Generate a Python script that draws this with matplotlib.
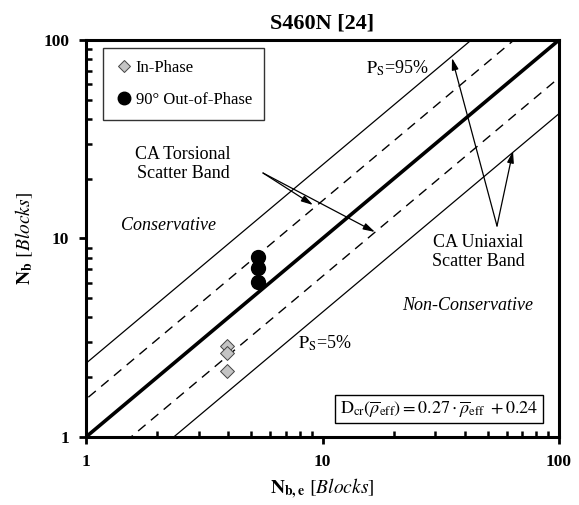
import matplotlib
matplotlib.use("Agg")
import matplotlib.pyplot as plt
import numpy as np
from matplotlib.lines import Line2D

plt.rcParams['font.family'] = ['Liberation Serif', 'DejaVu Serif']
plt.rcParams['mathtext.fontset'] = 'stix'

# Experimental results (Nb,e predicted vs Nb observed)
in_phase_x = [3.95, 3.95, 3.95]
in_phase_y = [2.87, 2.65, 2.15]
out_phase_x = [5.34, 5.34, 5.34]
out_phase_y = [8.07, 7.10, 6.04]

# Scatter band factors
uniaxial_factor = 2.35
torsional_factor = 1.55

fig = plt.figure(figsize=(5.79, 5.05), dpi=100)
ax = fig.add_axes([0.1485, 0.1347, 0.8170, 0.7861])
ax.set_xscale('log')
ax.set_yscale('log')
ax.set_xlim(1, 100)
ax.set_ylim(1, 100)

xx = np.array([0.1, 1000.0])
ax.plot(xx, xx, color='black', lw=2.6, zorder=2)
ax.plot(xx, xx * uniaxial_factor, color='black', lw=0.9, zorder=2)
ax.plot(xx, xx / uniaxial_factor, color='black', lw=0.9, zorder=2)
ax.plot(xx, xx * torsional_factor, color='black', lw=1.0, ls=(0, (7, 5)), zorder=2)
ax.plot(xx, xx / torsional_factor, color='black', lw=1.0, ls=(0, (7, 5)), zorder=2)

ax.scatter(in_phase_x, in_phase_y, marker='D', s=50, facecolor='#c4c4c4',
           edgecolor='#444444', linewidth=0.7, zorder=4)
ax.scatter(out_phase_x, out_phase_y, marker='o', s=100, facecolor='black',
           edgecolor='black', zorder=4)

# Spines and ticks
for s in ax.spines.values():
    s.set_linewidth(2.2)
ax.tick_params(which='major', direction='out', length=5, width=2.0, pad=7,
               labelsize=12.5)
ax.tick_params(which='minor', direction='in', length=4, width=1.8)
ax.set_xticks([1, 10, 100])
ax.set_yticks([1, 10, 100])
ax.set_xticklabels(['1', '10', '100'], fontweight='bold')
ax.set_yticklabels(['1', '10', '100'], fontweight='bold')

ax.set_title('S460N [24]', fontsize=16, fontweight='bold', pad=8)
ax.set_xlabel(r'$\mathbf{N_{b,e}}$ $\mathit{[Blocks]}$', fontsize=14, labelpad=5)
ax.set_ylabel(r'$\mathbf{N_{b}}$ $\mathit{[Blocks]}$', fontsize=14, labelpad=6)

# Legend
handles = [
    Line2D([], [], marker='D', ls='none', markersize=6, markerfacecolor='#c4c4c4',
           markeredgecolor='#444444', markeredgewidth=0.7),
    Line2D([], [], marker='o', ls='none', markersize=9, markerfacecolor='black',
           markeredgecolor='black'),
]
leg = ax.legend(handles, ['In-Phase', '90° Out-of-Phase'], loc='upper left',
                bbox_to_anchor=(0.035, 0.98), fontsize=12, frameon=True,
                fancybox=False, edgecolor='black', handletextpad=0.1,
                handlelength=1.2, labelspacing=1.0, borderpad=0.7,
                borderaxespad=0)
leg.get_frame().set_linewidth(1.0)

# Annotations
tkw = dict(transform=fig.transFigure)
def fx(px):
    return px / 579.0
def fy(py):
    return 1 - py / 505.0

ax.text(fx(397), fy(68), r'$\mathrm{P_S}$=95%', fontsize=13, ha='center',
        va='center', **tkw)
ax.text(fx(325), fy(343), r'$\mathrm{P_S}$=5%', fontsize=13, ha='center',
        va='center', **tkw)
ax.text(fx(168), fy(226), 'Conservative', fontsize=13, style='italic',
        ha='center', va='center', **tkw)
ax.text(fx(468), fy(305), 'Non-Conservative', fontsize=13, style='italic',
        ha='center', va='center', **tkw)
ax.text(fx(183), fy(164), 'CA Torsional\nScatter Band', fontsize=13,
        ha='center', va='center', linespacing=1.1, **tkw)
ax.text(fx(478), fy(252), 'CA Uniaxial\nScatter Band', fontsize=13,
        ha='center', va='center', linespacing=1.2, **tkw)

akw = dict(arrowstyle='-|>,head_length=0.7,head_width=0.2', color='black',
           lw=0.9, shrinkA=0, shrinkB=0)
for start, end in [((263, 173), (313, 205)), ((263, 173), (375, 232)),
                   ((497, 226), (452, 58)), ((497, 226), (513, 151))]:
    ax.annotate('', xy=(fx(end[0]), fy(end[1])), xycoords='figure fraction',
                xytext=(fx(start[0]), fy(start[1])), textcoords='figure fraction',
                arrowprops=akw)

ax.text(fx(439), fy(409),
        r'$\mathrm{D_{cr}}\left(\overline{\rho}_{\mathrm{eff}}\right) = 0.27\cdot\overline{\rho}_{\mathrm{eff}}\ + 0.24$',
        fontsize=13, ha='center', va='center',
        bbox=dict(boxstyle='square,pad=0.25', facecolor='white',
                  edgecolor='black', linewidth=1.0), **tkw)

fig.savefig('out.png', dpi=100)
